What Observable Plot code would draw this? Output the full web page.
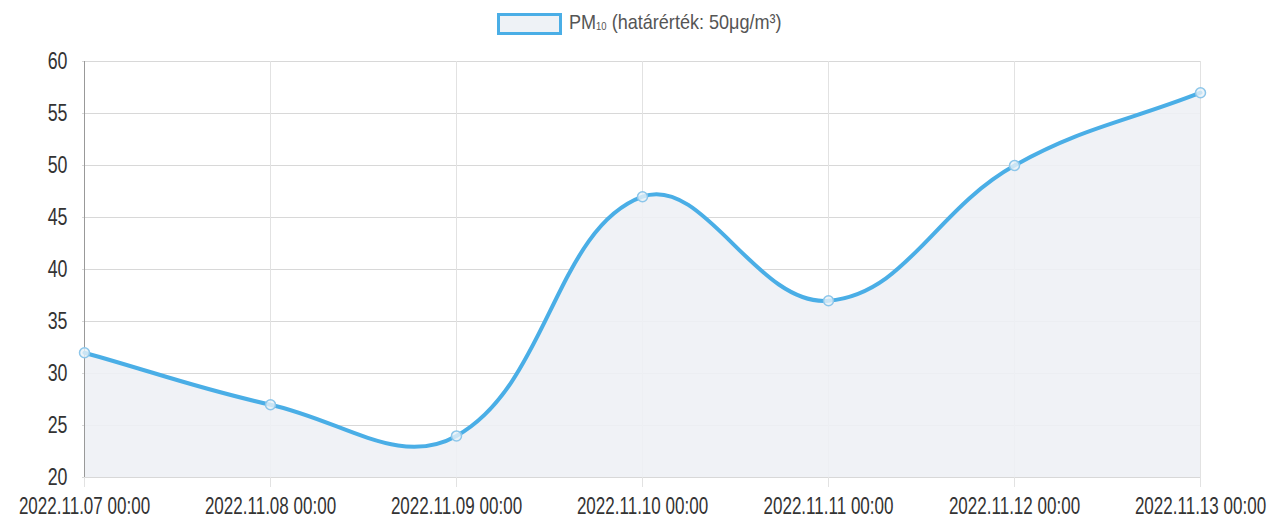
<!DOCTYPE html>
<html>
<head>
<meta charset="utf-8">
<script src="https://cdn.jsdelivr.net/npm/d3@7"></script>
<script src="https://cdn.jsdelivr.net/npm/@observablehq/plot@0.6"></script>
<style>
  html, body { margin: 0; padding: 0; background: #fff; }
  body { width: 1273px; height: 520px; overflow: hidden; font-family: "Liberation Sans", Arial, sans-serif; }
  #legend { height: 45px; position: relative; color: #555; }
  #legend .box { position: absolute; left: 497px; top: 13px; width: 59px; height: 16px; border: 3px solid #4aaee6; background: #eef2f6; }
  #legend .txt { position: absolute; left: 569px; top: 10px; font-size: 21px; line-height: 24px; white-space: nowrap; transform: scaleX(0.86); transform-origin: left center; }
  #legend sub { font-size: 11px; vertical-align: baseline; position: relative; top: 1px; }
</style>
</head>
<body>
<div id="legend"><span class="box"></span><span class="txt">PM<sub>10</sub> (határérték: 50μg/m³)</span></div>
<div id="chart"></div>
<script>
const labels = ["2022.11.07 00:00", "2022.11.08 00:00", "2022.11.09 00:00", "2022.11.10 00:00", "2022.11.11 00:00", "2022.11.12 00:00", "2022.11.13 00:00"];
const pm10 = [32, 27, 24, 47, 37, 50, 57];
const yTicks = [20, 25, 30, 35, 40, 45, 50, 55, 60];

const data = labels.map((d, i) => ({label: d, value: pm10[i]}));

// Chart.js-style spline (tension 0.4)
function chartjsCurve(context) {
  const t = 0.4;
  let pts = [], line = NaN;
  return {
    areaStart() { line = 0; },
    areaEnd() { line = NaN; },
    lineStart() { pts = []; },
    point(x, y) { pts.push([+x, +y]); },
    lineEnd() {
      const n = pts.length;
      if (n) {
        const ctrl = pts.map((cur, i) => {
          const prev = pts[i - 1] || cur, next = pts[i + 1] || cur;
          const d01 = Math.hypot(cur[0] - prev[0], cur[1] - prev[1]);
          const d12 = Math.hypot(next[0] - cur[0], next[1] - cur[1]);
          let s01 = d01 / (d01 + d12), s12 = d12 / (d01 + d12);
          if (!isFinite(s01)) s01 = 0;
          if (!isFinite(s12)) s12 = 0;
          const fa = t * s01, fb = t * s12;
          return {
            p: [cur[0] - fa * (next[0] - prev[0]), cur[1] - fa * (next[1] - prev[1])],
            n: [cur[0] + fb * (next[0] - prev[0]), cur[1] + fb * (next[1] - prev[1])]
          };
        });
        if (line) context.lineTo(pts[0][0], pts[0][1]);
        else context.moveTo(pts[0][0], pts[0][1]);
        for (let i = 1; i < n; ++i) {
          const a = ctrl[i - 1].n, b = ctrl[i].p;
          context.bezierCurveTo(a[0], a[1], b[0], b[1], pts[i][0], pts[i][1]);
        }
      }
      if (line || (line !== 0 && n === 1)) context.closePath();
      line = 1 - line;
    }
  };
}

const chart = Plot.plot({
  width: 1273,
  height: 475,
  marginLeft: 82,
  marginRight: 72,
  marginTop: 16,
  marginBottom: 43,
  style: {fontFamily: '"Liberation Sans", Arial, sans-serif', fontSize: "23px", color: "#333", background: "#fff"},
  x: {type: "point", domain: labels, padding: 0, label: null},
  y: {domain: [20, 60], ticks: yTicks, label: null},
  marks: [
    Plot.gridY(yTicks, {stroke: "#d8d8d8", strokeOpacity: 1, strokeWidth: 1}),
    Plot.gridX(labels, {stroke: "#e2e2e2", strokeOpacity: 1, y1: 20, y2: 60}),
    Plot.areaY(data, {x: "label", y1: 20, y2: "value", curve: chartjsCurve, fill: "#eef1f5", fillOpacity: 0.9}),
    Plot.ruleX([labels[0]], {stroke: "#999", strokeWidth: 1}),
    Plot.lineY(data, {x: "label", y: "value", curve: chartjsCurve, stroke: "#4aaee6", strokeWidth: 4}),
    Plot.dot(data, {x: "label", y: "value", r: 5, stroke: "#8cc6ea", strokeWidth: 1.5, fill: "#e9f1f7", fillOpacity: 0.8}),
    Plot.axisY(yTicks, {tickSize: 0, tickPadding: 15, fontSize: 24, fill: "#333"}),
    Plot.axisX(labels, {tickSize: 10, stroke: "#e2e2e2", tickPadding: 10, fontSize: 23, fill: "#333"})
  ]
});
document.getElementById("chart").appendChild(chart);

// condense tick label glyphs to mimic the narrow typeface
chart.querySelectorAll('g[aria-label="y-axis tick label"] text, g[aria-label="x-axis tick label"] text').forEach(el => {
  const w = el.getComputedTextLength();
  el.setAttribute("textLength", (w * 0.74).toFixed(1));
  el.setAttribute("lengthAdjust", "spacingAndGlyphs");
});
</script>
</body>
</html>
